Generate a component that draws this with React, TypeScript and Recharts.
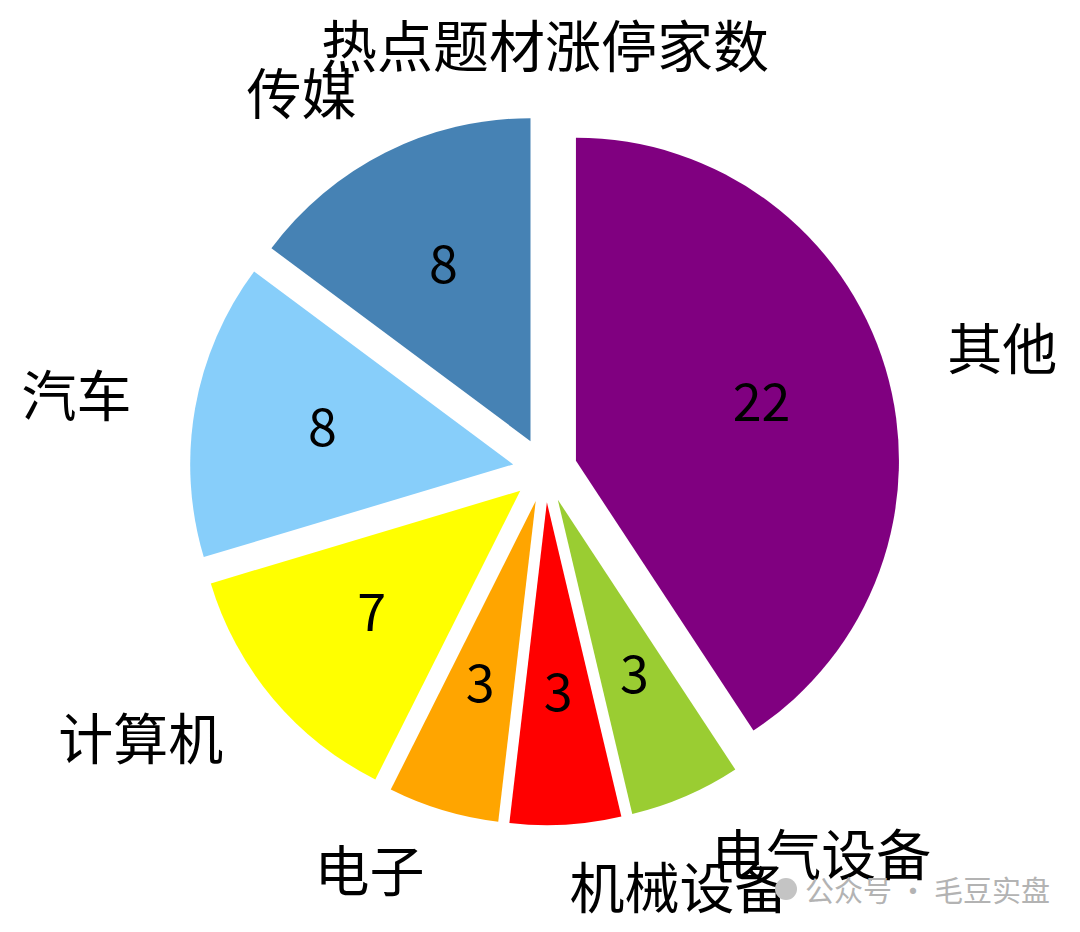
import { Pie, PieChart, Sector } from "recharts";

const categories = ["其他", "电气设备", "机械设备", "电子", "计算机", "汽车", "传媒"];
const counts = [22, 3, 3, 3, 7, 8, 8];
const colors = ["#800080", "#9ACD32", "#FF0000", "#FFA500", "#FFFF00", "#87CEFA", "#4682B4"];

const data = categories.map((name, i) => ({ name, value: counts[i], fill: colors[i] }));

const RADIAN = Math.PI / 180;
const font = '"Noto Sans CJK SC", "Noto Sans", sans-serif';
const explode = 0.1;

function offset(midAngle: number, r: number) {
  return { dx: r * Math.cos(-midAngle * RADIAN), dy: r * Math.sin(-midAngle * RADIAN) };
}

function ExplodedSector(props: any) {
  const { cx, cy, midAngle, outerRadius } = props;
  const { dx, dy } = offset(midAngle, outerRadius * explode);
  return <Sector {...props} cx={cx + dx} cy={cy + dy} stroke="none" />;
}

function renderLabel(props: any) {
  const { cx, cy, midAngle, outerRadius, name, value } = props;
  const ex = outerRadius * explode;
  const out = offset(midAngle, ex + outerRadius * 1.2);
  const inn = offset(midAngle, ex + outerRadius * 0.6);
  const anchor = out.dx >= 0 ? "start" : "end";
  return (
    <g>
      <text x={cx + out.dx} y={cy + out.dy - 5} textAnchor={anchor} dominantBaseline="central" fontSize={55} fill="#000" fontFamily={font}>
        {name}
      </text>
      <text x={cx + inn.dx} y={cy + inn.dy - 7} textAnchor="middle" dominantBaseline="central" fontSize={52} fill="#000" fontFamily={font}>
        {value}
      </text>
    </g>
  );
}

export default function App() {
  return (
    <div style={{ position: "absolute", left: 0, top: 0, width: 1080, height: 932, background: "#fff" }}>
      <div style={{ position: "absolute", left: 0, width: 1090, top: 10, textAlign: "center", fontSize: 56, lineHeight: "66px", fontFamily: font, color: "#000" }}>
        热点题材涨停家数
      </div>
      <PieChart width={1080} height={932} margin={{ top: 0, right: 0, bottom: 0, left: 0 }}>
        <Pie
          data={data}
          dataKey="value"
          nameKey="name"
          cx={545}
          cy={470}
          outerRadius={323}
          startAngle={90}
          endAngle={-270}
          stroke="none"
          shape={ExplodedSector}
          activeShape={ExplodedSector}
          inactiveShape={ExplodedSector}
          label={renderLabel}
          labelLine={false}
          isAnimationActive={false}
        />
      </PieChart>
      <div style={{ position: "absolute", left: 775, top: 868, display: "flex", alignItems: "center", gap: 8, fontSize: 29, fontFamily: font, color: "#b3b3b3", whiteSpace: "nowrap" }}>
        <span style={{ display: "inline-block", width: 22, height: 22, borderRadius: 11, background: "#c4c4c4" }} />
        <span>公众号 · 毛豆实盘</span>
      </div>
    </div>
  );
}
